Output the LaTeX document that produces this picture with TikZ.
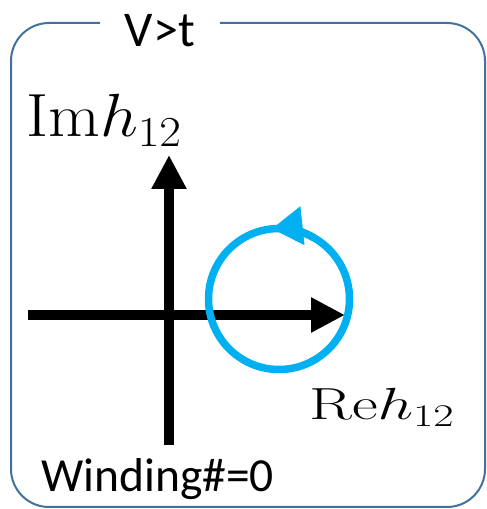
\RequirePackage{fix-cm}
\documentclass[tikz,border=0pt]{standalone}
\usepackage{fontspec}
\usepackage{graphicx}
\usetikzlibrary{arrows.meta}
\newfontfamily\calfont{Carlito}
\definecolor{panelbl}{HTML}{41719C}
\definecolor{windcy}{HTML}{00B0F0}

\begin{document}
\begin{tikzpicture}[x=1pt, y=1pt,
  panel/.style={draw=panelbl, line width=2pt, rounded corners=38pt},
  ttl/.style={fill=white, inner sep=0pt, minimum width=120pt,
              font=\calfont\fontsize{50}{60}\selectfont},
  axisarr/.style={line width=10pt, -{Triangle[length=34pt,width=33pt]}},
  wind/.style={draw=windcy, line width=7.5pt},
  lbl/.style={inner sep=0pt, anchor=base west}
]
\useasboundingbox (0,0) rectangle (487,509);
%% Frame with title
\draw[panel] (11,2) rectangle (485,486);
\node[ttl, anchor=base] (title) at (160,462) {V>t};
%% Axes
\coordinate (xl) at (28,194);
\coordinate (xr) at (345,194);
\coordinate (yb) at (169,64);
\coordinate (yt) at (169,354);
\draw[axisarr] (xl) -- (xr);
\draw[axisarr] (yb) -- (yt);
\node[lbl, font=\fontsize{61}{70}\selectfont] (imlab) at (26,372) {\scalebox{1.1}[1]{$\mathrm{Im}h_{12}$}};
\node[lbl, font=\fontsize{45}{54}\selectfont] (relab) at (309,89) {\scalebox{1.4}[1]{$\mathrm{Re}h_{12}$}};
%% Loop of h12
\coordinate (c) at (279,210);
\draw[wind] (c) circle (70.5);
\draw[wind, -{Triangle[length=31pt,width=37pt]}] ([shift={(60:70.5)}]c) arc (60:96:70.5);
%% Result
\node[lbl, font=\calfont\fontsize{47.5}{56}\selectfont] (windno) at (41,17) {Winding\#=0};
\end{tikzpicture}
\end{document}
